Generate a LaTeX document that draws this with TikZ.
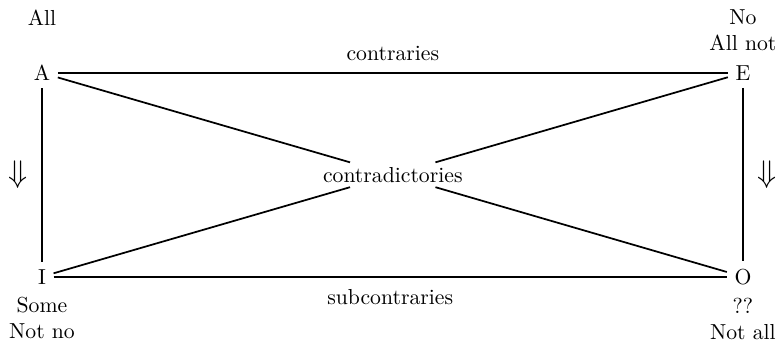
\documentclass[tikz,border=0pt]{standalone}
\usetikzlibrary{positioning}

\begin{document}
\begin{tikzpicture}[
  edge/.style={thick},
  names/.style={align=center},
  implies/.style={font=\Large},
]
  \useasboundingbox (0,0) rectangle (12.63,5.52);
  \node (A) at (0.68,4.34) {A};
  \node (E) at (12.03,4.34) {E};
  \node (I) at (0.68,1.04) {I};
  \node (O) at (12.03,1.04) {O};
  \node[inner ysep=2pt] (C) at (6.36,2.69) {contradictories};

  \node[names,above=-0.5pt of E] (Enames) {No\\All not};
  \node[anchor=north] (Anames) at (A |- Enames.north) {All};
  \node[names,below=-1pt of I] (Inames) {Some\\Not no};
  \node[names,below=-1pt of O] (Onames) {??\\Not all};

  \draw[edge] (A) -- node[above=2pt] (contr) {contraries} (E);
  \draw[edge] (I) -- node[below=2pt] (subcontr) {subcontraries} (O);
  \draw[edge] (A) -- node[implies,left=3pt] (leftarr) {$\Downarrow$} (I);
  \draw[edge] (E) -- node[implies,right=3pt] (rightarr) {$\Downarrow$} (O);
  \draw[edge] (A) -- (C);
  \draw[edge] (C) -- (O);
  \draw[edge] (E) -- (C);
  \draw[edge] (C) -- (I);
\end{tikzpicture}
\end{document}
